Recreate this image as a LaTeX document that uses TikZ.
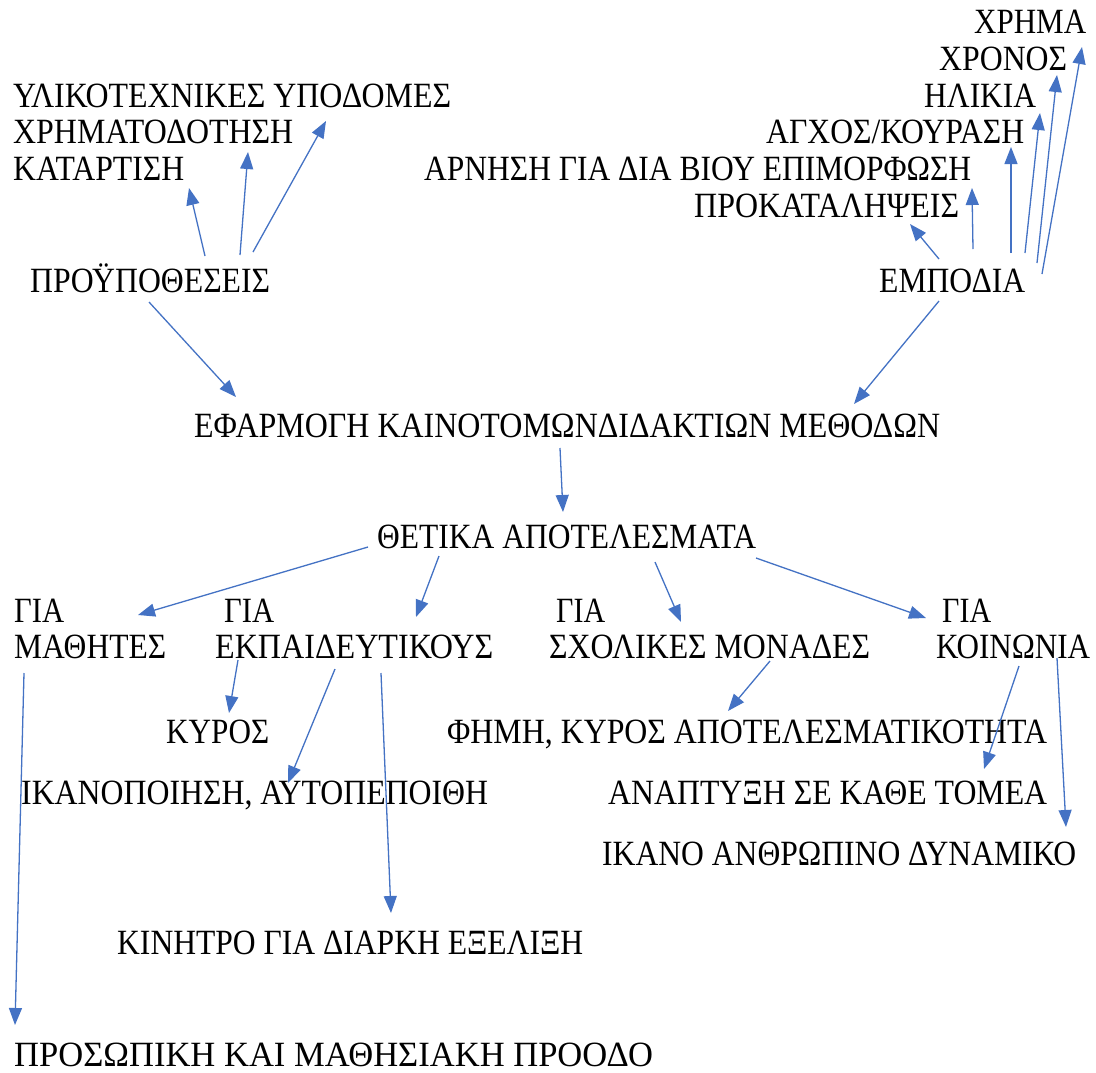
\documentclass[tikz,border=0pt]{standalone}
\usepackage{fontspec}
\setmainfont{Liberation Serif}
\usetikzlibrary{arrows.meta}
\definecolor{arrblue}{HTML}{4472C4}
\newsavebox\fitbox
\newcommand\fitw[2]{\sbox\fitbox{#2}\pgfmathsetmacro\fitratio{#1/\wd\fitbox}\scalebox{\fitratio}[1]{\usebox\fitbox}}
\begin{document}
\begin{tikzpicture}[x=1pt,y=-1pt,
  lbl/.style={anchor=base west,inner sep=0pt,font=\fontsize{35.5}{40}\selectfont},
  arr/.style={draw=arrblue,line width=1.3pt,-{Triangle[length=17pt,width=13pt]}}]
\useasboundingbox[fill=white] (0,0) rectangle (1096,1072);
% texts
\node[lbl] (ylik) at (13,107) {\fitw{438}{ΥΛΙΚΟΤΕΧΝΙΚΕΣ ΥΠΟΔΟΜΕΣ}};
\node[lbl] (xrim) at (13,143) {\fitw{280}{ΧΡΗΜΑΤΟΔΟΤΗΣΗ}};
\node[lbl] (kata) at (13,180) {\fitw{171}{ΚΑΤΑΡΤΙΣΗ}};
\node[lbl] (prou) at (30,292) {\fitw{240}{ΠΡΟΫΠΟΘΕΣΕΙΣ}};
\node[lbl] (xrima) at (974,33) {\fitw{112}{ΧΡΗΜΑ}};
\node[lbl] (xron) at (939,70) {\fitw{128}{ΧΡΟΝΟΣ}};
\node[lbl] (ilik) at (924,107) {\fitw{112}{ΗΛΙΚΙΑ}};
\node[lbl] (agx) at (766,143) {\fitw{258}{ΑΓΧΟΣ/ΚΟΥΡΑΣΗ}};
\node[lbl] (arn) at (424,180) {\fitw{547}{ΑΡΝΗΣΗ ΓΙΑ ΔΙΑ ΒΙΟΥ ΕΠΙΜΟΡΦΩΣΗ}};
\node[lbl] (prok) at (694,217) {\fitw{265}{ΠΡΟΚΑΤΑΛΗΨΕΙΣ}};
\node[lbl] (emp) at (879,292) {\fitw{146}{ΕΜΠΟΔΙΑ}};
\node[lbl] (efar) at (194,437) {\fitw{746}{ΕΦΑΡΜΟΓΗ ΚΑΙΝΟΤΟΜΩΝΔΙΔΑΚΤΙΩΝ ΜΕΘΟΔΩΝ}};
\node[lbl] (thet) at (377,548) {\fitw{379}{ΘΕΤΙΚΑ ΑΠΟΤΕΛΕΣΜΑΤΑ}};
\node[lbl] (gia1) at (14,622) {\fitw{50}{ΓΙΑ}};
\node[lbl] (math) at (14,658) {\fitw{152}{ΜΑΘΗΤΕΣ}};
\node[lbl] (gia2) at (224,622) {\fitw{50}{ΓΙΑ}};
\node[lbl] (ekp) at (215,658) {\fitw{278}{ΕΚΠΑΙΔΕΥΤΙΚΟΥΣ}};
\node[lbl] (gia3) at (556,622) {\fitw{49}{ΓΙΑ}};
\node[lbl] (sxol) at (549,658) {\fitw{321}{ΣΧΟΛΙΚΕΣ ΜΟΝΑΔΕΣ}};
\node[lbl] (gia4) at (942,622) {\fitw{49}{ΓΙΑ}};
\node[lbl] (koin) at (936,658) {\fitw{154}{ΚΟΙΝΩΝΙΑ}};
\node[lbl] (kyr) at (166,743) {\fitw{103}{ΚΥΡΟΣ}};
\node[lbl] (ikan) at (21,804) {\fitw{467}{ΙΚΑΝΟΠΟΙΗΣΗ, ΑΥΤΟΠΕΠΟΙΘΗ}};
\node[lbl] (kin) at (117,954) {\fitw{466}{ΚΙΝΗΤΡΟ ΓΙΑ ΔΙΑΡΚΗ ΕΞΕΛΙΞΗ}};
\node[lbl] (pros) at (14,1066) {\fitw{639}{ΠΡΟΣΩΠΙΚΗ ΚΑΙ ΜΑΘΗΣΙΑΚΗ ΠΡΟΟΔΟ}};
\node[lbl] (fim) at (447,743) {\fitw{600}{ΦΗΜΗ, ΚΥΡΟΣ ΑΠΟΤΕΛΕΣΜΑΤΙΚΟΤΗΤΑ}};
\node[lbl] (anap) at (608,804) {\fitw{439}{ΑΝΑΠΤΥΞΗ ΣΕ ΚΑΘΕ ΤΟΜΕΑ}};
\node[lbl] (ikdyn) at (602,865) {\fitw{474}{ΙΚΑΝΟ ΑΝΘΡΩΠΙΝΟ ΔΥΝΑΜΙΚΟ}};
% connector ends
\coordinate (p1s) at (205,256); \coordinate (p1e) at (189,188);
\coordinate (p2s) at (240,255); \coordinate (p2e) at (248,152);
\coordinate (p3s) at (253,252); \coordinate (p3e) at (326,121);
\coordinate (p4s) at (149,302); \coordinate (p4e) at (236,397);
\coordinate (e1s) at (939,259); \coordinate (e1e) at (910,224);
\coordinate (e2s) at (973,249); \coordinate (e2e) at (972,188);
\coordinate (e3s) at (1011,253); \coordinate (e3e) at (1011,147);
\coordinate (e4s) at (1025,253); \coordinate (e4e) at (1040,113);
\coordinate (e5s) at (1037,263); \coordinate (e5e) at (1057,75);
\coordinate (e6s) at (1042,274); \coordinate (e6e) at (1082,47);
\coordinate (e7s) at (939,301); \coordinate (e7e) at (854,404);
\coordinate (f1s) at (560,448); \coordinate (f1e) at (563,512);
\coordinate (t1s) at (368,547); \coordinate (t1e) at (138,615);
\coordinate (t2s) at (439,556); \coordinate (t2e) at (416,617);
\coordinate (t3s) at (655,562); \coordinate (t3e) at (681,622);
\coordinate (t4s) at (756,558); \coordinate (t4e) at (926,618);
\coordinate (m1s) at (24,673); \coordinate (m1e) at (15,1025);
\coordinate (k1s) at (238,660); \coordinate (k1e) at (229,713);
\coordinate (k2s) at (335,669); \coordinate (k2e) at (288,783);
\coordinate (k3s) at (381,673); \coordinate (k3e) at (391,913);
\coordinate (s1s) at (770,661); \coordinate (s1e) at (728,711);
\coordinate (c1s) at (1019,666); \coordinate (c1e) at (984,769);
\coordinate (c2s) at (1057,658); \coordinate (c2e) at (1066,827);
% connectors
\draw[arr] (p1s) -- (p1e);
\draw[arr] (p2s) -- (p2e);
\draw[arr] (p3s) -- (p3e);
\draw[arr] (p4s) -- (p4e);
\draw[arr] (e1s) -- (e1e);
\draw[arr] (e2s) -- (e2e);
\draw[arr] (e3s) -- (e3e);
\draw[arr] (e4s) -- (e4e);
\draw[arr] (e5s) -- (e5e);
\draw[arr] (e6s) -- (e6e);
\draw[arr] (e7s) -- (e7e);
\draw[arr] (f1s) -- (f1e);
\draw[arr] (t1s) -- (t1e);
\draw[arr] (t2s) -- (t2e);
\draw[arr] (t3s) -- (t3e);
\draw[arr] (t4s) -- (t4e);
\draw[arr] (m1s) -- (m1e);
\draw[arr] (k1s) -- (k1e);
\draw[arr] (k2s) -- (k2e);
\draw[arr] (k3s) -- (k3e);
\draw[arr] (s1s) -- (s1e);
\draw[arr] (c1s) -- (c1e);
\draw[arr] (c2s) -- (c2e);
\end{tikzpicture}
\end{document}
